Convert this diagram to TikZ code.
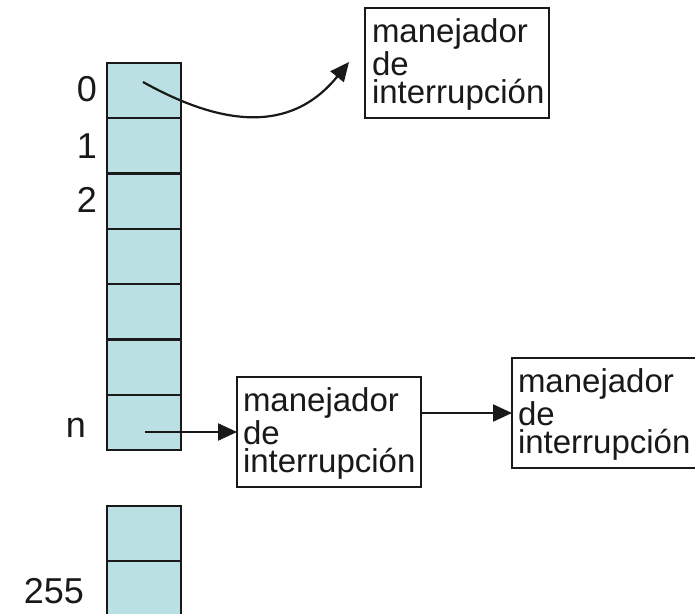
\documentclass[tikz,border=0pt]{standalone}
\usepackage{fontspec}
\setmainfont{Liberation Sans}
\usetikzlibrary{arrows.meta}
\definecolor{cellfill}{RGB}{187,224,227}
\tikzset{
  cell/.style={draw=black!90, line width=1.1pt, fill=cellfill, minimum width=37pt, minimum height=27.65pt, inner sep=0pt, outer sep=0pt, anchor=north west},
  hbox/.style={draw=black!90, line width=1.1pt, fill=white, minimum width=92pt, minimum height=55pt, inner sep=0pt, outer sep=0pt, anchor=north west},
  htext/.style={inner sep=0pt, outer sep=0pt, anchor=north west, align=left, font=\fontsize{16.5}{14}\selectfont, text=black!90},
  lbl/.style={inner sep=0pt, outer sep=0pt, anchor=base east, font=\fontsize{18}{18}\selectfont, text=black!90},
  arr/.style={line width=1.1pt, draw=black!90, -{Triangle[length=9.5pt,width=8.5pt]}}
}
\begin{document}
\begin{tikzpicture}[x=0.5pt,y=-0.5pt]
\path[use as bounding box, clip] (0,0) rectangle (695,614);
% vector cells
\node[cell] (c0) at (107,63) {};
\node[cell] (c1) at (107,118.3) {};
\node[cell] (c2) at (107,173.6) {};
\node[cell] (c3) at (107,228.9) {};
\node[cell] (c4) at (107,284.2) {};
\node[cell] (c5) at (107,339.5) {};
\node[cell] (cn) at (107,394.8) {};
\node[cell] (ca) at (107,506) {};
\node[cell] (cb) at (107,561) {};
% labels
\node[lbl] (l0) at (97,102) {0};
\node[lbl] (l1) at (97,159) {1};
\node[lbl] (l2) at (97,213) {2};
\node[lbl] (ln) at (86,437) {n};
\node[lbl] (l255) at (84,603) {255};
% handler boxes
\node[hbox] (top) at (365,8) {};
\node[htext] (toptxt) at (372,19) {manejador\\de\\interrupción};
\node[hbox] (mid) at (237,377) {};
\node[htext] (midtxt) at (243,388) {manejador\\de\\interrupción};
\node[hbox, minimum width=96pt] (right) at (512,358) {};
\node[htext] (righttxt) at (518,369) {manejador\\de\\interrupción};
% connectors
\coordinate (s0) at (143,82);
\coordinate (e0) at (349,62);
\draw[arr] (s0) .. controls (220,125) and (290,135) .. (e0);
\coordinate (sn) at (145,432);
\draw[arr] (sn) -- (mid.west);
\draw[arr] (mid.east |- right.west) -- (right.west);
\end{tikzpicture}
\end{document}
